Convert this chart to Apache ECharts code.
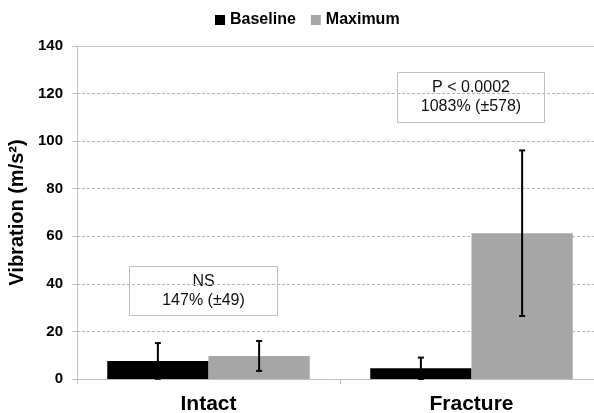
<!DOCTYPE html>
<html>
<head>
<meta charset="utf-8">
<script src="https://cdn.jsdelivr.net/npm/echarts@6/dist/echarts.min.js"></script>
<style>html,body{margin:0;padding:0;background:#fff}#c{width:594px;height:413px}</style>
</head>
<body>
<div id="c"></div>
<script>
var categories = ['Intact', 'Fracture'];
var baseline = [7.6, 4.5];
var baselineErr = [7.5, 4.5];
var maximum = [9.7, 61.3];
var maximumErr = [6.3, 34.8];
var yTicks = [0, 20, 40, 60, 80, 100, 120, 140];
var notes = [['NS', '147% (±49)'], ['P < 0.0002', '1083% (±578)']];

var FONT = '"Liberation Sans", Arial, sans-serif';
var chart = echarts.init(document.getElementById('c'), null, {renderer: 'canvas'});

function errData(vals, errs) {
  return vals.map(function (v, i) { return [i, v, errs[i]]; });
}
function errRender(side) {
  return function (params, api) {
    var ci = api.value(0), v = api.value(1), e = api.value(2);
    var band = api.size([1, 0])[0];
    var bw = band * 0.77 / 2;
    var c = api.coord([ci, v]);
    var x = c[0] + side * bw / 2;
    var top = api.coord([ci, v + e])[1];
    var bot = api.coord([ci, Math.max(v - e, 0)])[1];
    var cap = 3;
    var st = {stroke: '#000', lineWidth: 2};
    return {type: 'group', children: [
      {type: 'line', shape: {x1: x, y1: top, x2: x, y2: bot}, style: st},
      {type: 'line', shape: {x1: x - cap, y1: top, x2: x + cap, y2: top}, style: st},
      {type: 'line', shape: {x1: x - cap, y1: bot, x2: x + cap, y2: bot}, style: st}
    ]};
  };
}

function noteBox(x, y, w, h, lines) {
  return {type: 'group', left: x, top: y, z: 100, children: [
    {type: 'rect', shape: {x: 0, y: 0, width: w, height: h}, style: {fill: '#fff', stroke: '#bfbfbf', lineWidth: 1}},
    {type: 'text', x: w / 2, y: h / 2, style: {text: lines.join('\n'), font: '16px ' + FONT, fill: '#111', align: 'center', verticalAlign: 'middle', lineHeight: 19}}
  ]};
}

chart.setOption({
  animation: false,
  grid: {left: 77, width: 526, top: 46, bottom: 34, outerBoundsMode: 'none', containLabel: false},
  legend: {
    top: 7, left: 210, itemWidth: 10, itemHeight: 10, itemGap: 15,
    icon: 'rect',
    textStyle: {fontFamily: FONT, fontWeight: 'bold', fontSize: 16, color: '#000'},
    data: ['Baseline', 'Maximum']
  },
  xAxis: {
    type: 'category', data: categories,
    axisLine: {lineStyle: {color: '#bfbfbf'}},
    axisTick: {show: true, alignWithLabel: false, length: 5, lineStyle: {color: '#bfbfbf'}},
    axisLabel: {fontFamily: FONT, fontWeight: 'bold', fontSize: 21, color: '#000', margin: 15}
  },
  yAxis: {
    type: 'value', min: yTicks[0], max: yTicks[yTicks.length - 1], interval: 20,
    name: 'Vibration (m/s²)', nameLocation: 'middle', nameGap: 41, nameRotate: 90,
    nameTextStyle: {fontFamily: FONT, fontWeight: 'bold', fontSize: 20, color: '#000'},
    axisLine: {show: true, lineStyle: {color: '#bfbfbf'}},
    axisTick: {show: true, length: 5, lineStyle: {color: '#bfbfbf'}},
    axisLabel: {fontFamily: FONT, fontWeight: 'bold', fontSize: 15, color: '#000', margin: 14},
    splitLine: {lineStyle: {color: '#b5b5b5', type: [3, 2]}}
  },
  series: [
    {name: 'Baseline', type: 'bar', data: baseline, barGap: '0%', barCategoryGap: '23%',
     itemStyle: {color: '#000'},
     markLine: {silent: true, symbol: 'none', label: {show: false}, lineStyle: {color: '#c8c8c8', type: 'solid', width: 1}, data: [{yAxis: 140}]}},
    {name: 'Maximum', type: 'bar', data: maximum, barGap: '0%', barCategoryGap: '23%',
     itemStyle: {color: '#a6a6a6'}},
    {type: 'custom', renderItem: errRender(-1), data: errData(baseline, baselineErr), z: 10},
    {type: 'custom', renderItem: errRender(1), data: errData(maximum, maximumErr), z: 10}
  ],
  graphic: [
    noteBox(129, 266, 148, 49, notes[0]),
    noteBox(397, 72, 147, 50, notes[1])
  ]
});
</script>
</body>
</html>
